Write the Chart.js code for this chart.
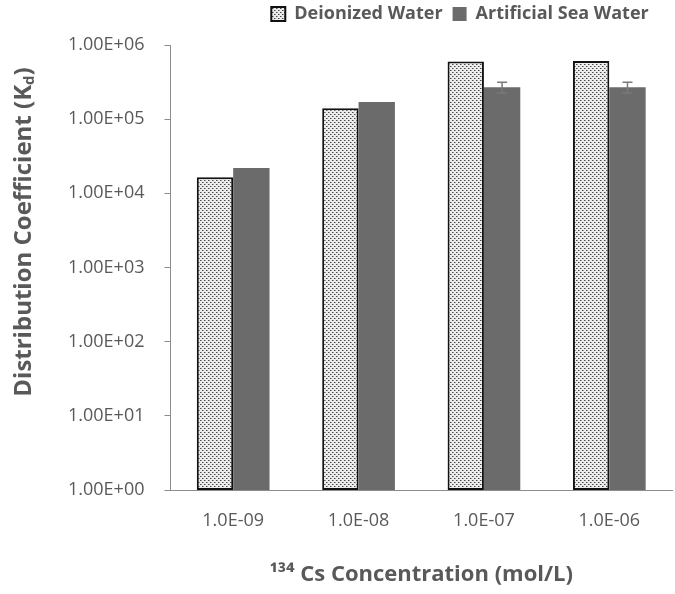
<!DOCTYPE html>
<html>
<head>
<meta charset="utf-8">
<script src="https://cdn.jsdelivr.net/npm/chart.js@4.4.1/dist/chart.umd.min.js"></script>
<style>
  html, body { margin: 0; padding: 0; background: #fff; }
  #wrap { width: 675px; height: 594px; }
</style>
</head>
<body>
<div id="wrap"><canvas id="kdChart" width="675" height="594"></canvas></div>
<script>
// data
const concentrations = ["1.0E-09", "1.0E-08", "1.0E-07", "1.0E-06"];
const deionizedKd = [16500, 140000, 600000, 610000];
const seaWaterKd = [22000, 170000, 270000, 270000];
const seaWaterErr = [0, 0, 45000, 45000];
const yTickValues = [1, 10, 100, 1000, 10000, 100000, 1000000];

const textGray = "#595959";
const fontFam = "'Open Sans', 'DejaVu Sans', sans-serif";

// dotted fill used by the deionized water bars
function makeDots() {
  const c = document.createElement("canvas");
  c.width = 4;
  c.height = 4;
  const g = c.getContext("2d");
  g.fillStyle = "#ececec";
  g.fillRect(0, 0, 4, 4);
  g.fillStyle = "#4a4a4a";
  g.fillRect(0, 0, 1, 1);
  g.fillRect(2, 2, 1, 1);
  g.fillStyle = "#9a9a9a";
  g.fillRect(1, 0, 1, 1);
  g.fillRect(3, 2, 1, 1);
  return g.createPattern(c, "repeat");
}
const dots = makeDots();

function fmtExp(v) {
  const e = Math.round(Math.log10(v));
  const s = e < 0 ? "-" : "+";
  return "1.00E" + s + String(Math.abs(e)).padStart(2, "0");
}

// error bars for sea water series
const errorBars = {
  id: "errorBars",
  afterDatasetsDraw(chart) {
    const ctx = chart.ctx;
    const meta = chart.getDatasetMeta(1);
    const y = chart.scales.y;
    ctx.save();
    ctx.strokeStyle = "#7a7a7a";
    ctx.lineWidth = 1.5;
    meta.data.forEach((bar, i) => {
      const err = seaWaterErr[i];
      if (!err) return;
      const top = y.getPixelForValue(seaWaterKd[i] + err);
      const bot = y.getPixelForValue(seaWaterKd[i] - err);
      ctx.beginPath();
      ctx.moveTo(bar.x, top);
      ctx.lineTo(bar.x, bot);
      ctx.moveTo(bar.x - 5, top);
      ctx.lineTo(bar.x + 5, top);
      ctx.moveTo(bar.x - 5, bot);
      ctx.lineTo(bar.x + 5, bot);
      ctx.stroke();
    });
    ctx.restore();
  }
};

// legend sits right of centre and near the top edge in the original
const legendShift = {
  id: "legendShift",
  afterLayout(chart) {
    const lg = chart.legend;
    lg.left += 100;
    lg.right += 100;
    lg.top -= 12;
    lg.bottom -= 12;
  }
};

// rotated y title with subscript d
const yTitle = {
  id: "yTitle",
  afterDraw(chart) {
    const ctx = chart.ctx;
    ctx.save();
    ctx.translate(24, 232);
    ctx.rotate(-Math.PI / 2);
    ctx.fillStyle = textGray;
    ctx.textBaseline = "middle";
    const main = "Distribution Coefficient (K";
    ctx.font = "bold 24px " + fontFam;
    const w1 = ctx.measureText(main).width;
    ctx.font = "bold 15px " + fontFam;
    const w2 = ctx.measureText("d").width;
    ctx.font = "bold 24px " + fontFam;
    const w3 = ctx.measureText(")").width;
    let x = -(w1 + w2 + w3) / 2;
    ctx.textAlign = "left";
    ctx.fillText(main, x, 0);
    x += w1;
    ctx.font = "bold 15px " + fontFam;
    ctx.fillText("d", x, 6);
    x += w2;
    ctx.font = "bold 24px " + fontFam;
    ctx.fillText(")", x, 0);
    ctx.restore();
  }
};

new Chart(document.getElementById("kdChart"), {
  type: "bar",
  data: {
    labels: concentrations,
    datasets: [
      {
        label: "Deionized Water",
        data: deionizedKd,
        backgroundColor: dots,
        borderColor: "#111",
        borderWidth: 2,
        borderSkipped: false
      },
      {
        label: "Artificial Sea Water",
        data: seaWaterKd,
        backgroundColor: "#6b6b6b",
        borderWidth: 0
      }
    ]
  },
  options: {
    responsive: false,
    animation: false,
    categoryPercentage: 0.58,
    barPercentage: 1,
    layout: { padding: { left: 48, right: 3, top: 7, bottom: 6 } },
    scales: {
      x: {
        grid: { display: false, drawTicks: false },
        border: { color: "#8c8c8c", width: 1 },
        ticks: { color: textGray, font: { family: fontFam, size: 18 }, padding: 20 },
        title: {
          display: true,
          text: "\u00b9\u00b3\u2074 Cs Concentration (mol/L)",
          color: textGray,
          font: { family: fontFam, size: 22, weight: "bold" },
          padding: { top: 10, bottom: 0 }
        }
      },
      y: {
        type: "logarithmic",
        min: 1,
        max: 1000000,
        afterBuildTicks(axis) {
          axis.ticks = yTickValues.map((v) => ({ value: v }));
        },
        grid: { drawOnChartArea: false, tickLength: 6, color: "#8c8c8c" },
        border: { color: "#8c8c8c", width: 1 },
        ticks: {
          color: textGray,
          font: { family: fontFam, size: 18 },
          padding: 20,
          callback: (v) => fmtExp(v)
        }
      }
    },
    plugins: {
      legend: {
        position: "top",
        labels: {
          color: textGray,
          font: { family: fontFam, size: 18, weight: "bold" },
          boxWidth: 14,
          boxHeight: 14,
          padding: 10
        }
      },
      tooltip: { enabled: false }
    }
  },
  plugins: [errorBars, legendShift, yTitle]
});
</script>
</body>
</html>
